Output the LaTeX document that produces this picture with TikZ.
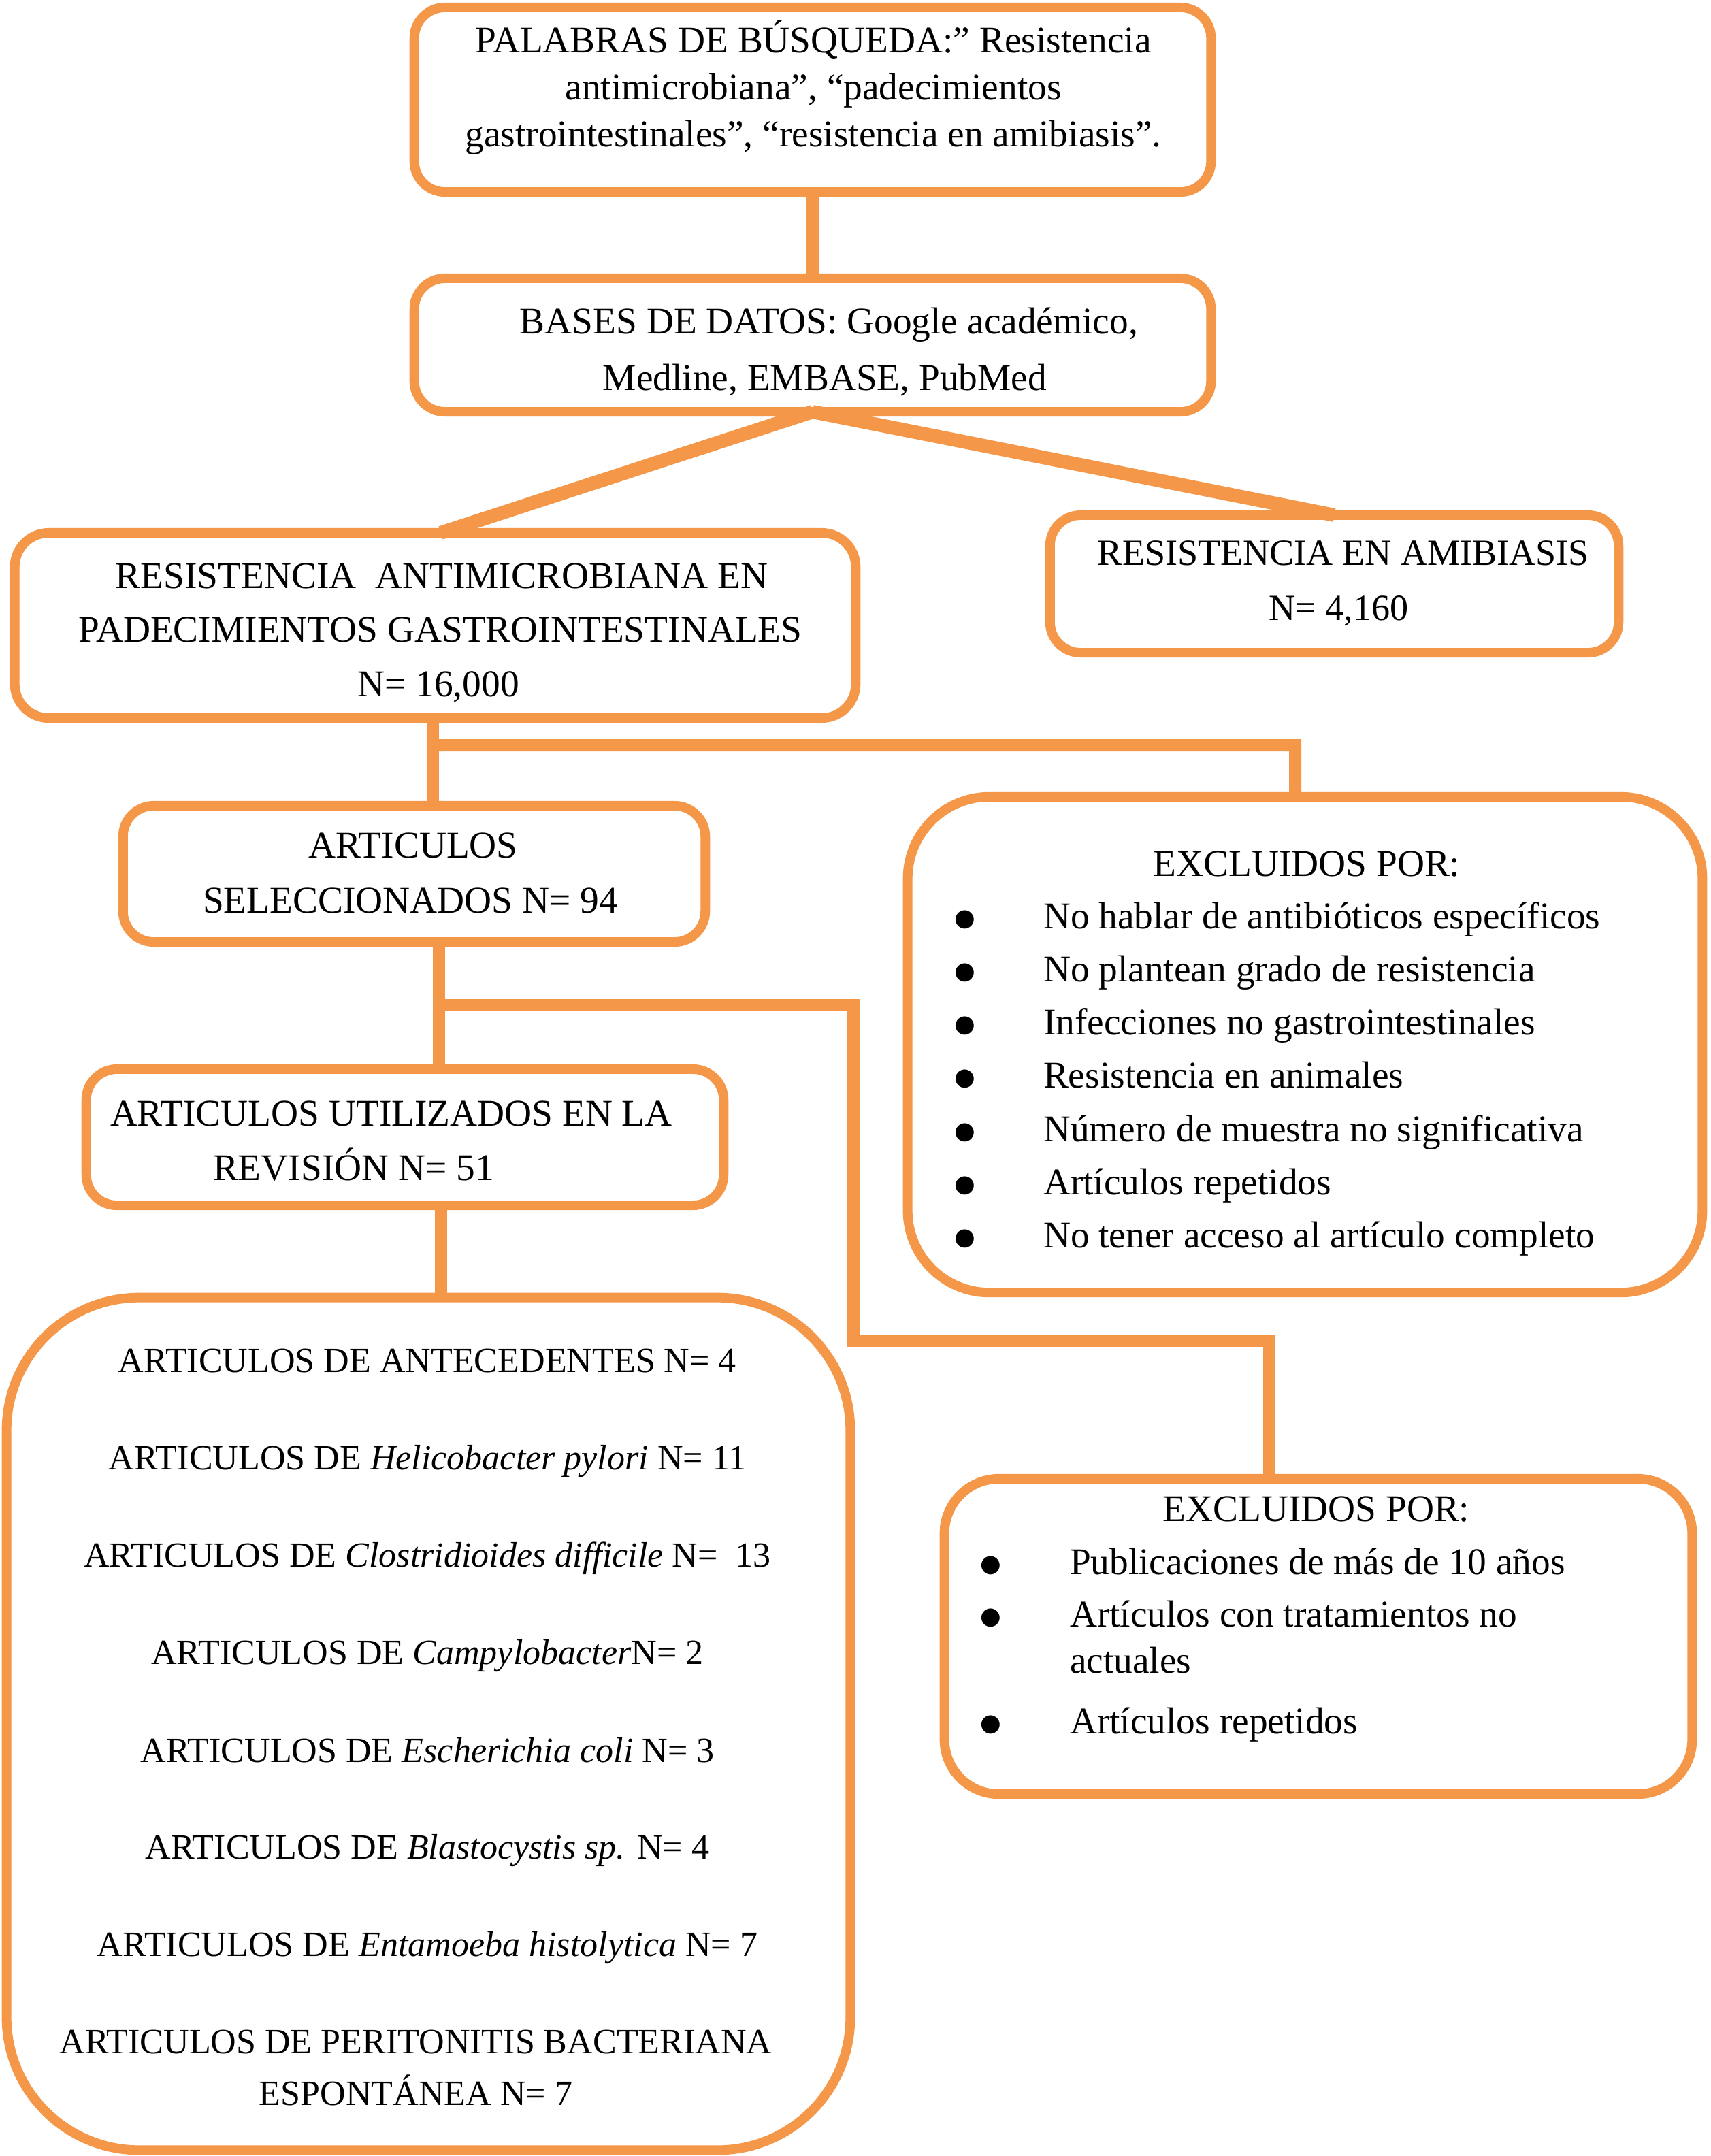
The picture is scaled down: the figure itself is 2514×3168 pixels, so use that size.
\documentclass[tikz,border=0pt]{standalone}
\usepackage{fontspec}
\setmainfont{Liberation Serif}
\newfontfamily\bulfont{DejaVu Sans}
\usetikzlibrary{calc}
\definecolor{orng}{RGB}{245,151,72}
\begin{document}
\begin{tikzpicture}[x=0.01cm,y=-0.01cm,
  box/.style={draw=orng, line width=0.14cm, rounded corners=0.45cm, fill=white, inner sep=0pt, outer sep=0pt},
  link/.style={draw=orng, line width=0.18cm, line join=miter},
  diag/.style={draw=orng, line width=0.2cm},
  txt/.style={inner sep=0pt, outer sep=0pt, font=\fontsize{15.75}{19}\selectfont, anchor=base},
  ltxt/.style={txt, anchor=base west},
  stxt/.style={txt, font=\fontsize{14.8}{18}\selectfont},
  bul/.style={inner sep=0pt, outer sep=0pt, font=\bulfont\fontsize{10}{10}\selectfont, anchor=base}]
\useasboundingbox (0,0) rectangle (2514,3168);

% boxes
\node[box, minimum width=11.70cm, minimum height=2.71cm] (b1) at (1194,146.5) {};
\node[box, minimum width=11.70cm, minimum height=1.96cm] (b2) at (1194,507) {};
\node[box, minimum width=12.35cm, minimum height=2.72cm, rounded corners=0.5cm] (b3) at (639.5,919) {};
\node[box, minimum width=8.35cm, minimum height=2.02cm] (b4) at (1960.5,858) {};
\node[box, minimum width=8.55cm, minimum height=2.00cm] (b5) at (608.5,1284) {};
\node[box, minimum width=11.67cm, minimum height=7.28cm, rounded corners=1.2cm] (b6) at (1917.5,1535) {};
\node[box, minimum width=9.36cm, minimum height=2.00cm] (b7) at (595,1671) {};
\node[box, minimum width=10.98cm, minimum height=4.63cm, rounded corners=0.8cm] (b8) at (1937,2404.5) {};
\node[box, minimum width=12.39cm, minimum height=12.52cm, rounded corners=1.95cm] (b9) at (629.5,2533) {};

% connectors
\draw[link] (b1.south) -- (b2.north);
\draw[diag] (b2.south) -- ($(b3.north)+(8,0)$);
\draw[diag] (b2.south) -- (b4.north);
\coordinate (p1) at ($(b3.south)+(-4,0)$);
\coordinate (j1) at ($(b3.south)+(-4,40)$);
\coordinate (j2) at (1903,1095);
\draw[link] (p1) -- (p1 |- b5.north);
\draw[link] (j1) -- (j2) -- (j2 |- b6.north);
\coordinate (k1) at (645,1477);
\coordinate (k2) at (1254,1477);
\coordinate (k3) at (1254,1970);
\coordinate (k4) at (1865,1970);
\draw[link] (k1 |- b5.south) -- (k1 |- b7.north);
\draw[link] (k1) -- (k2) -- (k3) -- (k4) -- (k4 |- b8.north);
\coordinate (m1) at (648,1771);
\draw[link] (m1) -- (m1 |- b9.north);

% texts box 1
\node[txt] (t1a) at (1195,77) {PALABRAS DE BÚSQUEDA:” Resistencia};
\node[txt] (t1b) at (1195,146) {antimicrobiana”, “padecimientos};
\node[txt] (t1c) at (1195,215) {gastrointestinales”, “resistencia en amibiasis”.};
% box 2
\node[txt] (t2a) at (1218,490) {BASES DE DATOS: Google académico,};
\node[txt] (t2b) at (1212,573) {Medline, EMBASE, PubMed};
% box 3
\node[txt] (t3a) at (649,864) {RESISTENCIA\ \ ANTIMICROBIANA EN};
\node[txt] (t3b) at (647,943) {PADECIMIENTOS GASTROINTESTINALES};
\node[txt] (t3c) at (644,1023) {N= 16,000};
% box 4
\node[txt, font=\fontsize{15.4}{19}\selectfont] (t4a) at (1974,830) {RESISTENCIA EN AMIBIASIS};
\node[txt, font=\fontsize{15.4}{19}\selectfont] (t4b) at (1967,911) {N= 4,160};
% box 5
\node[txt] (t5a) at (607,1260) {ARTICULOS};
\node[txt] (t5b) at (603,1341) {SELECCIONADOS N= 94};
% box 6
\node[txt] (t6h) at (1920,1287) {EXCLUIDOS POR:};
\foreach \i/\t in {0/{No hablar de antibióticos específicos},
                   1/{No plantean grado de resistencia},
                   2/{Infecciones no gastrointestinales},
                   3/{Resistencia en animales},
                   4/{Número de muestra no significativa},
                   5/{Artículos repetidos},
                   6/{No tener acceso al artículo completo}}{
  \node[bul] (u6\i) at (1418,1364-4+78.3*\i) {●};
  \node[ltxt] (t6\i) at (1533,1364+78.3*\i) {\t};
}
% box 7
\node[ltxt] (t7a) at (162,1654) {ARTICULOS UTILIZADOS EN LA};
\node[ltxt] (t7b) at (313,1734) {REVISIÓN N= 51};
% box 8
\node[txt] (t8h) at (1934,2235) {EXCLUIDOS POR:};
\node[bul] (u81) at (1456,2313-4) {●};
\node[ltxt] (t81) at (1572,2313) {Publicaciones de más de 10 años};
\node[bul] (u82) at (1456,2390-4) {●};
\node[ltxt] (t82) at (1572,2390) {Artículos con tratamientos no};
\node[ltxt] (t83) at (1572,2458) {actuales};
\node[bul] (u84) at (1456,2547-4) {●};
\node[ltxt] (t84) at (1572,2547) {Artículos repetidos};
% box 9
\node[stxt] (t91) at (628,2016) {ARTICULOS DE ANTECEDENTES N= 4};
\node[stxt] (t92) at (628,2159) {ARTICULOS DE \textit{Helicobacter pylori} N= 11};
\node[stxt] (t93) at (628,2302) {ARTICULOS DE \textit{Clostridioides difficile} N=\ \ 13};
\node[stxt] (t94) at (628,2445) {ARTICULOS DE \textit{Campylobacter}N= 2};
\node[stxt] (t95) at (628,2589) {ARTICULOS DE \textit{Escherichia coli} N= 3};
\node[stxt] (t96) at (628,2731) {ARTICULOS DE \textit{Blastocystis sp.} N= 4};
\node[stxt] (t97) at (628,2874) {ARTICULOS DE \textit{Entamoeba histolytica} N= 7};
\node[stxt] (t98) at (611,3017) {ARTICULOS DE PERITONITIS BACTERIANA};
\node[stxt] (t99) at (611,3093) {ESPONTÁNEA N= 7};
\end{tikzpicture}
\end{document}
